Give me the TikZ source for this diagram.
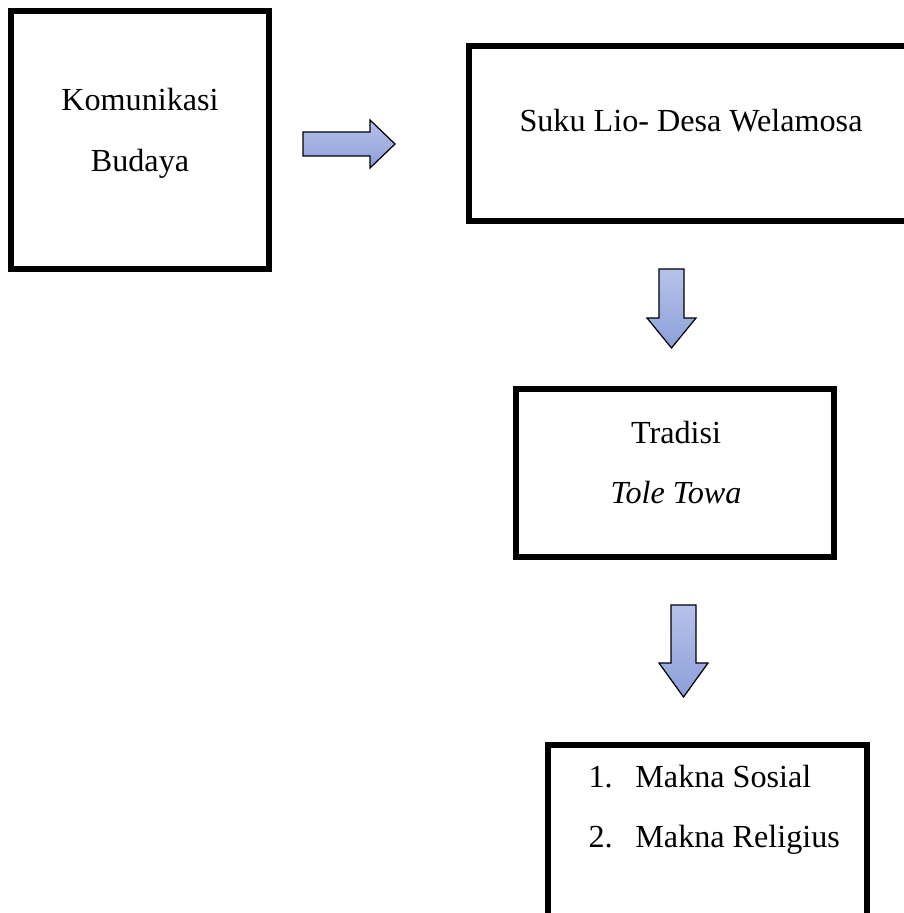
\documentclass[tikz,border=0pt]{standalone}
\usepackage{fontspec}
\setmainfont{Liberation Serif}
\usepackage{tikz}
\usetikzlibrary{positioning}
\newcommand\pxu{0.367pt}
\definecolor{arrtop}{RGB}{182,194,234}
\definecolor{arrbot}{RGB}{140,159,217}
\tikzset{
  box/.style    = {draw=black, line width=6*\pxu, inner sep=0pt},
  txt/.style    = {font=\fontsize{11.8}{22.75}\selectfont, inner sep=0pt, align=center},
  lst/.style    = {font=\fontsize{11.8}{22}\selectfont, inner sep=0pt, align=left},
  barrow/.style = {draw=black, line width=0.45pt, line join=miter,
                   top color=arrtop, bottom color=arrbot},
}
\begin{document}
\begin{tikzpicture}[x=\pxu, y=-\pxu]
\useasboundingbox (0,0) rectangle (903,913);
% --- the four boxes ---------------------------------------------------------
\node[box, minimum width=258*\pxu, minimum height=258*\pxu] (kom)  at (140,140)   {};
\node[box, minimum width=444*\pxu, minimum height=175*\pxu] (suku) at (691,133.5) {};
\node[box, minimum width=318*\pxu, minimum height=168*\pxu] (trad) at (675,473)   {};
\node[box, minimum width=319*\pxu, minimum height=200*\pxu] (makna) at (707.5,845) {};

% texts, base = baseline of the last line
\node[txt, anchor=base] (kom-t)  at (140,172) {Komunikasi\\Budaya};
\node[txt, anchor=base] (suku-t) at (691,132) {Suku Lio- Desa Welamosa};
\node[txt, anchor=base] (trad-t) at (676,503) {Tradisi\\[-0.75pt]\textit{Tole Towa}};
\node[lst, anchor=base west] (makna-t) at (588,847)
  {\makebox[17.2pt][l]{1.}Makna Sosial\\\makebox[17.2pt][l]{2.}Makna Religius};

% --- block arrows, drawn round their tips -----------------------------------
\coordinate (tipA) at (395,144);
\coordinate (tipB) at (671.5,348);
\coordinate (tipC) at (683.5,697);
\draw[barrow, shift={(tipA)}] (-92,-12) -- (-25,-12) -- (-25,-24) -- (0,0)
  -- (-25,24) -- (-25,12) -- (-92,12) -- cycle;
\draw[barrow, shift={(tipB)}] (-12.5,-79) -- (12.5,-79) -- (12.5,-30) -- (24.5,-30)
  -- (0,0) -- (-24.5,-30) -- (-12.5,-30) -- cycle;
\draw[barrow, shift={(tipC)}] (-12.5,-92) -- (12.5,-92) -- (12.5,-34) -- (24.5,-34)
  -- (0,0) -- (-24.5,-34) -- (-12.5,-34) -- cycle;
\end{tikzpicture}
\end{document}
